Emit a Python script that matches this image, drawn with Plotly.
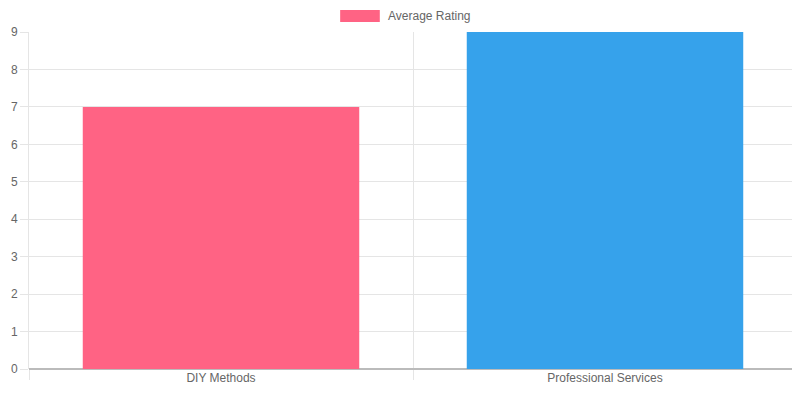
import plotly.graph_objects as go

categories = ["DIY Methods", "Professional Services"]
values = [7, 9]
colors = ["rgba(255,99,132,1)", "rgba(54,162,235,1)"]
series_name = "Average Rating"

fig = go.Figure()
fig.add_trace(go.Bar(x=categories, y=values, marker=dict(color=colors, line=dict(width=0)),
                     width=0.72, showlegend=False, name=series_name))
fig.add_trace(go.Scatter(x=[-0.5, 1.5], y=[None, None], xaxis="x2", showlegend=False, hoverinfo="skip"))

font = dict(family="Liberation Sans, Arial, sans-serif", size=12, color="#666")
fig.update_layout(
    width=792, height=392, margin=dict(l=14, r=3, t=24, b=31),
    paper_bgcolor="white", plot_bgcolor="white", font=font,
    xaxis=dict(type="category", range=[-0.5, 1.5], showgrid=False, ticks="", showline=False,
               tickfont=font),
    xaxis2=dict(overlaying="x", range=[-0.5, 1.5], tickvals=[-0.5, 0.5, 1.5], showticklabels=False,
                showgrid=True, gridcolor="#e5e5e5", ticks="outside", ticklen=10, tickcolor="#e5e5e5",
                side="bottom", showline=False, zeroline=False),
    yaxis=dict(range=[0, 9], dtick=1, showgrid=True, gridcolor="#e5e5e5", ticks="outside", ticklen=8,
               tickcolor="#e5e5e5", zeroline=True, zerolinecolor="#bbb", showline=True,
               linecolor="#e5e5e5", tickfont=font),
    shapes=[dict(type="rect", xref="paper", yref="paper", x0=(336-22)/775, x1=(376-22)/775,
                 y0=(400-22-31)/337, y1=(400-10-31)/337, fillcolor="rgba(255,99,132,1)", line=dict(width=0))],
    annotations=[dict(text=series_name, xref="paper", yref="paper", x=(382-22)/775, y=(400-16-31)/337,
                      xanchor="left", yanchor="middle", showarrow=False, font=font)],
)
fig.write_html("out.html")
